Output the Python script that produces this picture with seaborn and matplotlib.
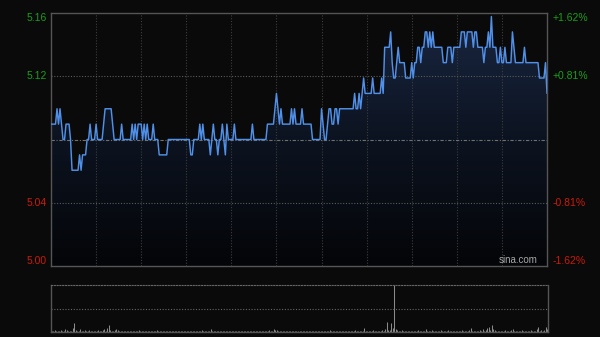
import numpy as np
import pandas as pd
import matplotlib
matplotlib.use("Agg")
import matplotlib.pyplot as plt
import seaborn as sns
from matplotlib.colors import LinearSegmentedColormap
from matplotlib.patches import PathPatch
from matplotlib.transforms import blended_transform_factory

# ---------------- data ----------------
prev_close = 5.08
pct_levels = [1.62, 0.81, -0.81, -1.62]
left_labels = ["5.16", "5.12", "5.04", "5.00"]
right_labels = ["+1.62%", "+0.81%", "-0.81%", "-1.62%"]

prices = [
    5.09, 5.09, 5.09, 5.09, 5.10, 5.09, 5.10, 5.09, 5.08, 5.08,
    5.09, 5.09, 5.09, 5.08, 5.06, 5.06, 5.06, 5.06, 5.06, 5.07,
    5.06, 5.07, 5.07, 5.07, 5.08, 5.08, 5.09, 5.08, 5.08, 5.08,
    5.09, 5.08, 5.08, 5.08, 5.08, 5.09, 5.10, 5.10, 5.10, 5.10,
    5.10, 5.09, 5.08, 5.08, 5.08, 5.08, 5.08, 5.09, 5.08, 5.08,
    5.08, 5.08, 5.08, 5.08, 5.09, 5.08, 5.09, 5.08, 5.09, 5.09,
    5.09, 5.08, 5.09, 5.08, 5.09, 5.08, 5.08, 5.08, 5.09, 5.08,
    5.08, 5.08, 5.07, 5.07, 5.07, 5.07, 5.07, 5.07, 5.08, 5.08,
    5.08, 5.08, 5.08, 5.08, 5.08, 5.08, 5.08, 5.08, 5.08, 5.08,
    5.08, 5.08, 5.08, 5.07, 5.07, 5.08, 5.08, 5.08, 5.08, 5.09,
    5.08, 5.09, 5.08, 5.08, 5.08, 5.08, 5.07, 5.08, 5.09, 5.08,
    5.08, 5.07, 5.08, 5.08, 5.09, 5.08, 5.07, 5.09, 5.08, 5.08,
    5.08, 5.08, 5.09, 5.08, 5.08, 5.08, 5.08, 5.08, 5.08, 5.08,
    5.08, 5.08, 5.08, 5.08, 5.09, 5.08, 5.08, 5.08, 5.08, 5.08,
    5.08, 5.08, 5.08, 5.08, 5.09, 5.09, 5.09, 5.09, 5.09, 5.10,
    5.11, 5.10, 5.09, 5.10, 5.09, 5.09, 5.09, 5.09, 5.09, 5.09,
    5.10, 5.09, 5.10, 5.09, 5.09, 5.09, 5.09, 5.10, 5.09, 5.09,
    5.09, 5.09, 5.09, 5.09, 5.08, 5.08, 5.08, 5.08, 5.08, 5.08,
    5.10, 5.09, 5.08, 5.08, 5.09, 5.10, 5.10, 5.09, 5.09, 5.10,
    5.10, 5.09, 5.10, 5.10, 5.10, 5.10, 5.10, 5.10, 5.10, 5.10,
    5.10, 5.10, 5.11, 5.10, 5.10, 5.11, 5.10, 5.11, 5.12, 5.11,
    5.11, 5.11, 5.11, 5.11, 5.12, 5.11, 5.11, 5.11, 5.11, 5.11,
    5.12, 5.11, 5.14, 5.14, 5.14, 5.14, 5.15, 5.13, 5.12, 5.12,
    5.13, 5.14, 5.13, 5.13, 5.13, 5.13, 5.12, 5.12, 5.12, 5.12,
    5.13, 5.12, 5.13, 5.13, 5.14, 5.14, 5.13, 5.14, 5.14, 5.15,
    5.15, 5.14, 5.15, 5.14, 5.15, 5.14, 5.14, 5.14, 5.14, 5.14,
    5.14, 5.13, 5.13, 5.13, 5.14, 5.14, 5.14, 5.13, 5.14, 5.14,
    5.14, 5.14, 5.14, 5.15, 5.15, 5.15, 5.14, 5.15, 5.15, 5.15,
    5.15, 5.14, 5.15, 5.15, 5.14, 5.14, 5.14, 5.14, 5.13, 5.14,
    5.14, 5.15, 5.14, 5.16, 5.14, 5.14, 5.14, 5.13, 5.13, 5.14,
    5.13, 5.13, 5.14, 5.13, 5.13, 5.13, 5.13, 5.15, 5.14, 5.13,
    5.13, 5.13, 5.13, 5.13, 5.13, 5.14, 5.13, 5.13, 5.13, 5.13,
    5.13, 5.13, 5.13, 5.13, 5.13, 5.12, 5.12, 5.12, 5.12, 5.13,
    5.11,
]

volumes = [
    15, 8, 20, 12, 6, 10, 25, 8, 12, 30, 18, 10, 6, 14, 40, 90, 22, 12, 8, 30, 15, 10, 18, 8, 12, 20, 10, 6, 14, 8,
    10, 18, 8, 12, 20, 30, 14, 40, 70, 25, 12, 8, 16, 30, 22, 10, 8, 14, 6, 12, 10, 8, 6, 12, 14, 8, 10, 6, 20, 8,
    10, 6, 8, 12, 6, 10, 8, 14, 6, 8, 20, 10, 6, 8, 12, 6, 10, 8, 6, 10, 14, 8, 6, 10, 8, 6, 12, 8, 6, 10,
    8, 6, 12, 14, 8, 6, 10, 8, 6, 12, 20, 8, 6, 10, 8, 14, 30, 8, 10, 6, 12, 8, 6, 10, 14, 8, 6, 10, 8, 6,
    10, 8, 12, 6, 8, 10, 6, 8, 12, 6, 8, 10, 6, 8, 14, 6, 10, 8, 6, 8, 12, 10, 8, 6, 14, 20, 12, 10, 30, 16,
    20, 12, 10, 8, 14, 10, 8, 12, 6, 10, 14, 8, 12, 10, 8, 6, 14, 10, 8, 12, 6, 10, 14, 8, 12, 10, 8, 6, 10, 12,
    14, 10, 8, 12, 10, 16, 12, 8, 10, 14, 12, 10, 8, 14, 10, 12, 8, 10, 14, 8, 12, 10, 16, 12, 14, 10, 12, 8, 40, 14,
    12, 10, 14, 12, 16, 10, 12, 8, 14, 12, 18, 14, 30, 100, 20, 16, 90, 40, 470, 30, 20, 14, 12, 16, 10, 14, 12, 10, 8, 12,
    14, 10, 12, 8, 16, 12, 10, 14, 12, 30, 12, 10, 14, 16, 12, 10, 14, 12, 10, 16, 12, 14, 10, 12, 16, 12, 10, 14, 12, 10,
    12, 14, 10, 16, 12, 10, 14, 12, 16, 40, 14, 12, 10, 14, 12, 16, 12, 30, 14, 20, 45, 50, 20, 70, 30, 16, 12, 14, 10, 12,
    14, 12, 16, 10, 14, 12, 18, 30, 14, 12, 10, 14, 12, 16, 10, 12, 14, 10, 12, 16, 14, 12, 10, 30, 50, 14, 20, 12, 16, 50,
    30,
]

minutes = list(range(len(prices)))
df = pd.DataFrame({"minute": minutes, "price": prices, "volume": volumes})

# ---------------- style ----------------
BG = "#0a0a0a"
LINE = "#5090e8"
BORDER = "#555555"
GRID = "#3c3c3c"
GREEN = "#1a9e1a"
RED = "#cc1a0a"

sns.set_theme(style="dark")
plt.rcParams['font.family'] = ['Liberation Sans', 'DejaVu Sans']

fig = plt.figure(figsize=(6, 3.37), dpi=100, facecolor=BG)
ax = fig.add_axes([51 / 600, 71 / 337, 496 / 600, 253 / 337])
axv = fig.add_axes([51 / 600, 5 / 337, 497 / 600, 47 / 337])

for a in (ax, axv):
    a.set_facecolor(BG)
    a.grid(False)
    a.set_xticks([])
    a.set_yticks([])
    a.set_xlabel("")
    a.set_ylabel("")

n_last = len(prices) - 1
ylo = prev_close * (1 - pct_levels[0] / 100)
yhi = prev_close * (1 + pct_levels[0] / 100)

# gradient fill under price line
poly = ax.fill_between(df["minute"], df["price"], ylo, facecolor="none", edgecolor="none")
path = poly.get_paths()[0]
patch = PathPatch(path, transform=ax.transData, facecolor="none", edgecolor="none")
ax.add_patch(patch)
cmap = LinearSegmentedColormap.from_list("g", ["#040508", "#0c1320", "#1a2742"])
grad = np.linspace(0, 1, 256).reshape(-1, 1)
im = ax.imshow(grad, extent=[0, n_last, ylo, yhi], aspect="auto", origin="lower",
               cmap=cmap, zorder=1, interpolation="bilinear")
im.set_clip_path(patch)

# grid
for k in range(1, 11):
    ax.axvline(30 * k, color=GRID, lw=0.8, ls=(0, (1, 1.5)), zorder=2)
for p in (pct_levels[1], pct_levels[2]):
    ax.axhline(prev_close * (1 + p / 100), color="#5a5a5a", lw=0.8, ls=(0, (1, 1.5)), zorder=2)
ax.axhline(prev_close, color="#707070", lw=0.8, ls=(0, (3, 1.5, 1, 1.5)), zorder=2)

sns.lineplot(data=df, x="minute", y="price", ax=ax, color=LINE, linewidth=1.05, zorder=3)
ax.set_xlabel("")
ax.set_ylabel("")
ax.set_xlim(0, n_last)
ax.set_ylim(ylo, yhi)

for s in ax.spines.values():
    s.set_visible(True)
    s.set_color(BORDER)
    s.set_linewidth(1.0)

# axis labels
tr_l = blended_transform_factory(ax.transAxes, ax.transData)
vas = ["top", "center", "center", "bottom"]
for p, ll, rl, va in zip(pct_levels, left_labels, right_labels, vas):
    yv = prev_close * (1 + p / 100)
    col = GREEN if p > 0 else RED
    ax.text(-0.008, yv, ll, transform=tr_l, ha="right", va=va, color=col, fontsize=7.5)
    ax.text(1.012, yv, rl, transform=tr_l, ha="left", va=va, color=col, fontsize=7.5)

ax.text(0.981, 0.005, "sina.com", transform=ax.transAxes, ha="right", va="bottom",
        color="#a8a8a8", fontsize=7)

# volume panel
axv.vlines(df["minute"], 0, df["volume"], color="#8a8a8a", linewidth=0.75)
axv.set_xlim(-0.5, n_last + 0.5)
vmax = max(volumes)
axv.set_ylim(0, vmax)
axv.axhline(vmax / 2, color="#666666", lw=0.8, ls=(0, (1, 1.5)))
for side in ("left", "right", "bottom"):
    axv.spines[side].set_visible(True)
    axv.spines[side].set_color(BORDER)
    axv.spines[side].set_linewidth(1.0)
axv.spines["top"].set_visible(True)
axv.spines["top"].set_color("#666666")
axv.spines["top"].set_linewidth(0.8)
axv.spines["top"].set_linestyle((0, (1, 1.5)))

fig.savefig("out.png", dpi=100, facecolor=BG)
